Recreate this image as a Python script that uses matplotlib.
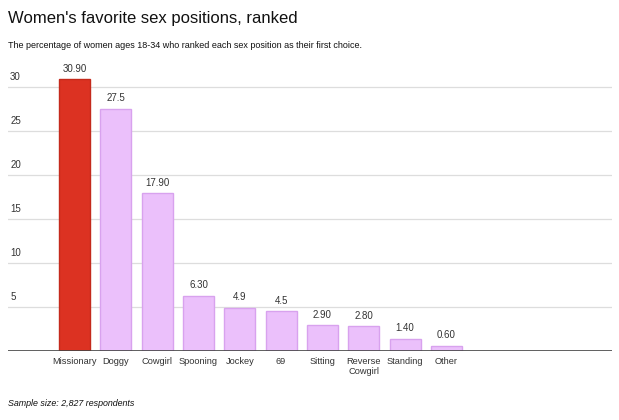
import matplotlib
matplotlib.use("Agg")
import matplotlib.pyplot as plt
import numpy as np

plt.rcParams['font.family'] = ['Liberation Sans', 'DejaVu Sans']

categories = ["Missionary", "Doggy", "Cowgirl", "Spooning", "Jockey", "69",
              "Sitting", "Reverse\nCowgirl", "Standing", "Other"]
values = [30.90, 27.5, 17.90, 6.30, 4.9, 4.5, 2.90, 2.80, 1.40, 0.60]
value_labels = ["30.90", "27.5", "17.90", "6.30", "4.9", "4.5", "2.90", "2.80", "1.40", "0.60"]
yticks = [5, 10, 15, 20, 25, 30]

fig = plt.figure(figsize=(6.19, 4.2), dpi=100)
ax = fig.add_axes([8/619, 69/420, 604/619, 286/420])

x = np.arange(len(categories))
colors = ["#DC3222"] + ["#EBC0FB"] * (len(categories) - 1)
edges = ["#C42A1C"] + ["#D8A2EE"] * (len(categories) - 1)
ax.bar(x, values, width=0.75, color=colors, edgecolor=edges, linewidth=1, zorder=3)

for xi, v, lab in zip(x, values, value_labels):
    ax.annotate(lab, (xi, v), xytext=(0, 4), textcoords="offset points",
                ha="center", va="bottom", fontsize=7.0, color="#333333")

ax.set_xlim(-1.61, 13.01)
ax.set_ylim(0, 32.5)

for t in yticks:
    ax.axhline(t, color="#DDDDDD", linewidth=0.9, zorder=1)
    ax.annotate(str(t), (0, t), xycoords=("axes fraction", "data"),
                xytext=(1.5, 3.5), textcoords="offset points",
                ha="left", va="bottom", fontsize=7.0, color="#333333")
ax.axhline(0, color="#444444", linewidth=1.2, zorder=4)

ax.set_xticks(x)
ax.set_xticklabels(categories, fontsize=6.7, color="#333333", linespacing=1.15)
ax.tick_params(axis="x", length=0, pad=4)
ax.set_yticks([])
for s in ax.spines.values():
    s.set_visible(False)

fig.text(8/619, 1 - 18/420, "Women's favorite sex positions, ranked",
         fontsize=12.0, color="#111111", ha="left", va="center")
fig.text(8/619, 1 - 45/420,
         "The percentage of women ages 18-34 who ranked each sex position as their first choice.",
         fontsize=6.5, color="#111111", ha="left", va="center")
fig.text(8/619, 1 - 403/420, "Sample size: 2,827 respondents",
         fontsize=6.4, color="#111111", ha="left", va="center", style="italic")

fig.savefig("out.png", dpi=100)
